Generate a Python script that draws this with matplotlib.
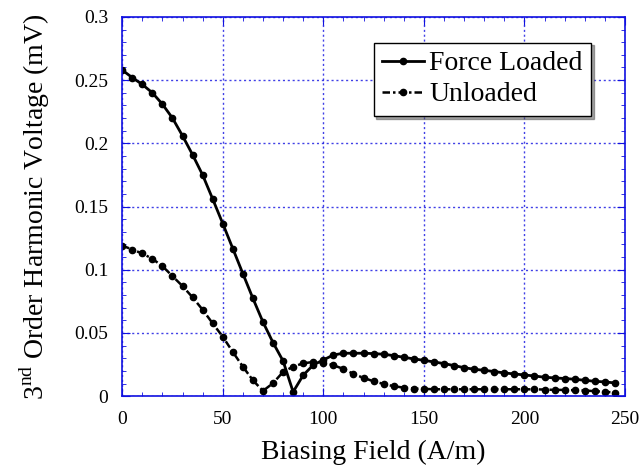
import numpy as np
import matplotlib
matplotlib.use("Agg")
import matplotlib.pyplot as plt
from matplotlib.ticker import MultipleLocator

plt.rcParams['font.family'] = ['Liberation Serif', 'DejaVu Serif']
plt.rcParams['mathtext.fontset'] = 'custom'
plt.rcParams['mathtext.rm'] = 'Liberation Serif'

field = np.arange(0, 250, 5)

force_loaded = [0.258, 0.252, 0.2466, 0.240, 0.231, 0.220, 0.206, 0.191, 0.175, 0.156,
                0.1366, 0.1168, 0.097, 0.0774, 0.0587, 0.0424, 0.0279, 0.0034, 0.0166, 0.0247,
                0.0287, 0.0326, 0.034, 0.034, 0.034, 0.0337, 0.0332, 0.0321, 0.0308, 0.0295,
                0.0284, 0.0271, 0.0258, 0.0242, 0.0226, 0.0213, 0.0205, 0.0195, 0.0184, 0.0176,
                0.0168, 0.016, 0.015, 0.0145, 0.014, 0.0134, 0.0126, 0.0118, 0.0113, 0.0105]

unloaded = [0.1192, 0.116, 0.1129, 0.1087, 0.1029, 0.095, 0.0871, 0.0782, 0.0684, 0.0576,
            0.0471, 0.035, 0.0234, 0.0126, 0.0042, 0.0103, 0.0192, 0.0234, 0.026, 0.0271,
            0.0266, 0.0245, 0.0216, 0.0176, 0.0145, 0.0118, 0.0097, 0.0079, 0.0068, 0.006,
            0.0058, 0.0055, 0.0055, 0.0055, 0.0055, 0.0055, 0.0055, 0.0055, 0.0055, 0.0055,
            0.0055, 0.0054, 0.0053, 0.005, 0.005, 0.0047, 0.0045, 0.004, 0.0035, 0.0029]

fig = plt.figure(figsize=(6.43, 4.70), dpi=100)
ax = fig.add_axes([0.19, 0.157, 0.782, 0.807])

ax.plot(field, force_loaded, color='black', lw=2.0, marker='o', ms=4.5, label='Force Loaded')
ax.plot(field, unloaded, color='black', lw=1.8, ls=(0, (3, 1.2, 1, 1.2)), marker='o', ms=4.5,
        label='Unloaded')

ax.set_xlim(0, 250)
ax.set_ylim(0, 0.3)
ax.xaxis.set_major_locator(MultipleLocator(50))
ax.xaxis.set_minor_locator(MultipleLocator(10))
ax.yaxis.set_minor_locator(MultipleLocator(0.01))
ax.set_yticks([0, 0.05, 0.1, 0.15, 0.2, 0.25, 0.3])
ax.set_yticklabels(['0', '0.05', '0.1', '0.15', '0.2', '0.25', '0.3'])

blue = '#1010e0'
for s in ax.spines.values():
    s.set_color(blue)
    s.set_linewidth(1.2)
ax.tick_params(which='both', direction='in', top=True, right=True, color=blue, labelsize=14)
ax.tick_params(which='major', length=6)
ax.tick_params(which='minor', length=3)
ax.tick_params(axis='x', pad=11)
ax.tick_params(axis='y', pad=10)
ax.grid(True, which='major', color=blue, ls=(0, (1.5, 2)), lw=1.0, alpha=0.8)

ax.set_xlabel('Biasing Field (A/m)', fontsize=20, labelpad=8)
ax.set_ylabel(r'3$^{\rm nd}$ Order Harmonic Voltage (mV)', fontsize=20, labelpad=16)

leg = ax.legend(loc='upper right', bbox_to_anchor=(0.932, 0.932), fontsize=20, frameon=True,
                fancybox=False, shadow=True, borderpad=0.3, handlelength=1.5,
                handletextpad=0.2, labelspacing=0.2, borderaxespad=0)
leg.get_frame().set_edgecolor('black')
leg.get_frame().set_linewidth(1.0)
leg.get_frame().set_alpha(1)

fig.savefig('out.png', dpi=100)
